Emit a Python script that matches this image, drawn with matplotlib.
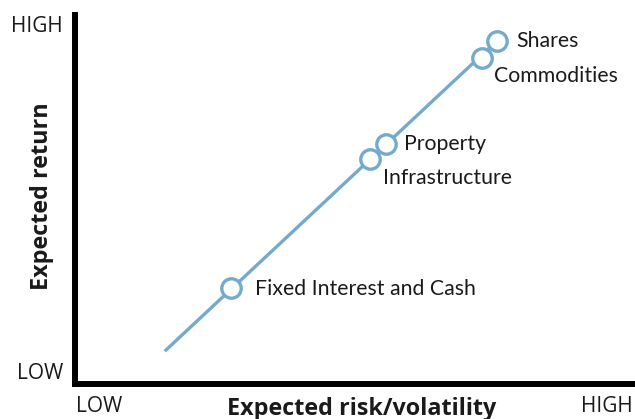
import matplotlib
matplotlib.use("Agg")
import matplotlib.pyplot as plt

# Data (arbitrary 0-10 scale for risk and return)
assets = ["Fixed Interest and Cash", "Infrastructure", "Property", "Commodities", "Shares"]
risk = [2.80, 5.28, 5.56, 7.27, 7.54]
ret = [2.60, 6.10, 6.50, 8.83, 9.30]
line_x = [1.62, 7.54]
line_y = [0.89, 9.30]
label_offsets = [(17, -1), (9, -14), (13, 0), (9, -13), (14, 0)]  # points
tick_low, tick_high = "LOW", "HIGH"

W, H = 635, 419
fig = plt.figure(figsize=(W / 100, H / 100), dpi=100)
ax = fig.add_axes([75 / W, 35 / H, 560 / W, 369 / H])
ax.set_xlim(0.02, 10)
ax.set_ylim(0, 10)

color = "#74aacb"
ax.plot(line_x, line_y, color=color, lw=2.4, solid_capstyle="butt", zorder=2)
ax.plot(risk, ret, "o", ms=14, mfc="white", mec=color, mew=2.4, zorder=3)

for name, x, y, off in zip(assets, risk, ret, label_offsets):
    ax.annotate(name, (x, y), xytext=off, textcoords="offset points",
                ha="left", va="center", fontsize=15.3, family="Lato", color="#1a1a1a")

for s in ["top", "right"]:
    ax.spines[s].set_visible(False)
for s in ["left", "bottom"]:
    ax.spines[s].set_linewidth(4.3)
    ax.spines[s].set_color("black")
ax.set_xticks([])
ax.set_yticks([])

fkw = dict(family="Open Sans", color="#1a1a1a")
fig.text(63 / W, 1 - 27 / H, tick_high, ha="right", va="center", fontsize=15, **fkw)
fig.text(63 / W, 1 - 373 / H, tick_low, ha="right", va="center", fontsize=15, **fkw)
fig.text(76 / W, 1 - 406 / H, tick_low, ha="left", va="center", fontsize=15, **fkw)
fig.text(633 / W, 1 - 406 / H, tick_high, ha="right", va="center", fontsize=15, **fkw)
fig.text(362 / W, 1 - 409 / H, "Expected risk/volatility", ha="center", va="center",
         fontsize=16.8, fontweight="bold", **fkw)
fig.text(42 / W, 1 - 196 / H, "Expected return", ha="center", va="center",
         rotation=90, fontsize=16.8, fontweight="bold", **fkw)

fig.savefig("out.png", dpi=100)
